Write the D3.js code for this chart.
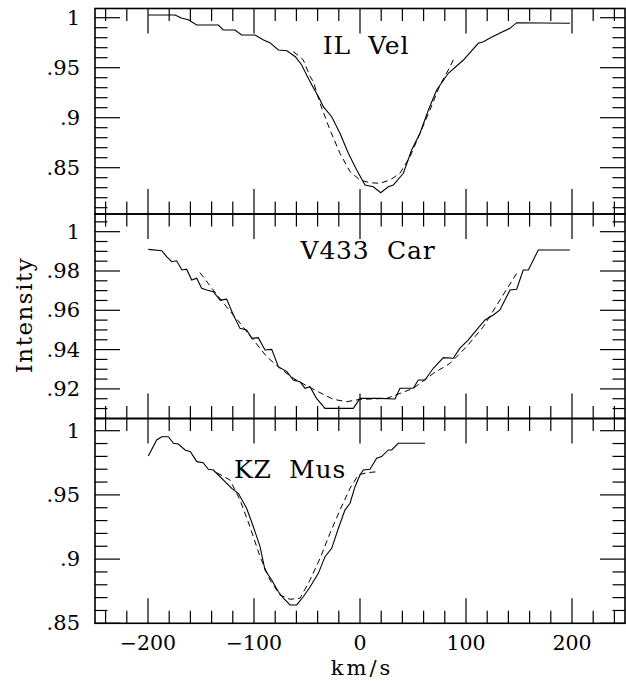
<!DOCTYPE html>
<html><head><meta charset="utf-8">
<script src="https://cdn.jsdelivr.net/npm/d3@7"></script>
<style>
html,body{margin:0;padding:0;background:#fff;}
svg{display:block;}
text{font-family:"DejaVu Serif",serif;fill:#000;}
</style></head>
<body>
<script>
// ---------- data (velocity km/s, intensity) ----------
const panelNames = ["IL Vel", "V433 Car", "KZ Mus"];
const xTickValues = [-200, -100, 0, 100, 200];

const ilVelObs = [[-199.7,1.0027],[-174.5,1.0027],[-168,0.9994],[-162,0.998],[-154,0.9927],[-133.6,0.9927],[-129,0.9877],[-118,0.9877],[-111.6,0.9827],[-99,0.9827],[-91,0.9777],[-85,0.975],[-77,0.9677],[-69,0.967],[-61,0.961],[-55,0.9527],[-50,0.942],[-44,0.93],[-38.4,0.9194],[-34.6,0.911],[-26.7,0.901],[-18.9,0.8844],[-11,0.8644],[-3.1,0.8477],[4.7,0.8327],[12.6,0.831],[19.5,0.825],[26.7,0.831],[31.4,0.8327],[40.9,0.8444],[48.7,0.8677],[56.6,0.8844],[64.5,0.9077],[72.3,0.9277],[83.3,0.9444],[97.5,0.9577],[111.6,0.9744],[116.4,0.976],[124,0.9804],[133.6,0.9854],[141.5,0.9894],[147.8,0.995],[198,0.9944]];
const ilVelFit = [[-63,0.966],[-56.6,0.961],[-53.5,0.9577],[-47,0.941],[-44,0.936],[-37.7,0.9144],[-28.3,0.8877],[-18.9,0.8644],[-9.4,0.846],[0,0.8377],[9.4,0.835],[18.9,0.8344],[28.3,0.8377],[37.7,0.8444],[47.2,0.861],[56.6,0.8844],[66,0.9077],[75.5,0.9327],[83.3,0.9477],[89.6,0.961]];

const v433Obs = [[-199.7,0.991],[-187,0.9903],[-182.4,0.9873],[-177.6,0.9847],[-173,0.9852],[-168,0.9805],[-163.5,0.9809],[-158.8,0.9754],[-154,0.9763],[-149.4,0.9712],[-144.6,0.9703],[-138.4,0.9695],[-132,0.9652],[-125.8,0.9657],[-119.5,0.9576],[-113.2,0.9508],[-107,0.95],[-102,0.9457],[-96,0.9461],[-89.6,0.9398],[-83.3,0.9401],[-77,0.9313],[-69,0.9288],[-62.9,0.9245],[-56.6,0.9237],[-51.9,0.9203],[-47.2,0.9211],[-41,0.9152],[-33,0.9101],[-6.3,0.9101],[0,0.9152],[18.9,0.9152],[33,0.9149],[37.7,0.9203],[50.3,0.9203],[55,0.9245],[61.3,0.9245],[69.2,0.9305],[78.6,0.9359],[88,0.9356],[94.3,0.9407],[102.2,0.9449],[110,0.95],[117.9,0.9551],[125.8,0.9576],[132,0.9602],[141.5,0.9703],[147.8,0.9707],[154,0.9805],[158.8,0.9805],[168.2,0.9907],[198,0.9907]];
const v433Fit = [[-151,0.9792],[-138.4,0.9703],[-126,0.9618],[-113,0.9534],[-100.6,0.9449],[-88,0.9364],[-75.5,0.9305],[-63,0.9254],[-50,0.9215],[-37.7,0.9181],[-25.2,0.9147],[-12.6,0.9135],[0,0.9147],[12.6,0.9149],[25.2,0.9152],[37.7,0.9177],[50.3,0.9203],[69.2,0.9279],[84.9,0.933],[100.6,0.9415],[116.4,0.9517],[132,0.9652],[147.8,0.9788]];

const kzMusObs = [[-199.7,0.9803],[-191.8,0.9928],[-187,0.9953],[-180.8,0.9953],[-176,0.9902],[-171.4,0.9896],[-165,0.985],[-160,0.9837],[-154,0.9759],[-148,0.9751],[-143,0.9699],[-138.4,0.9694],[-133.6,0.9655],[-127.4,0.9603],[-121,0.9551],[-114.8,0.9512],[-107,0.9396],[-100.6,0.9252],[-94.3,0.9097],[-89.6,0.8915],[-83.3,0.8837],[-77,0.8746],[-72.3,0.8695],[-66,0.8643],[-59.7,0.8643],[-53.5,0.8707],[-47,0.8785],[-39.3,0.8889],[-33,0.9019],[-26.7,0.9084],[-20.4,0.924],[-14.2,0.9382],[-9.4,0.9435],[-4.7,0.9564],[0,0.9655],[3.1,0.9694],[9.4,0.9699],[15.7,0.9785],[20.4,0.9798],[26.7,0.985],[29.9,0.985],[36.1,0.9902],[61.3,0.9902]];
const kzMusFit = [[-135.2,0.9673],[-122.6,0.9616],[-113.2,0.946],[-103.8,0.9252],[-94.3,0.9019],[-84.9,0.8837],[-75.5,0.872],[-66,0.8687],[-56.6,0.8695],[-47.2,0.8837],[-37.7,0.9006],[-28.3,0.9201],[-18.9,0.9382],[-9.4,0.9551],[-1.6,0.9655],[6.3,0.9673],[17.3,0.9681]];

const yDomains = [[0.8037, 1.0092], [0.90494, 1.009], [0.85, 1.0095]];
const yMajorTicks = [[0.85, 0.9, 0.95, 1], [0.92, 0.94, 0.96, 0.98, 1], [0.85, 0.9, 0.95, 1]];
const yMinorSteps = [0.01, 0.005, 0.01];
const observed = [ilVelObs, v433Obs, kzMusObs];
const fitted = [ilVelFit, v433Fit, kzMusFit];

// ---------- layout ----------
const W = 626, H = 681;
const left = 95, right = 625;
const panelBounds = [[8.5, 214], [214, 418.5], [418.5, 623.3]];
const labelPos = [[366, 54], [368, 259], [290, 478]];
const MAJ = 25, MIN = 12.5;

const svg = d3.select("body").append("svg").attr("width", W).attr("height", H);
const x = d3.scaleLinear().domain([-250, 250]).range([left, right]);

const fmtY = v => {
  if (Math.abs(v - 1) < 1e-9) return "1";
  return d3.format(".2~f")(v).replace(/^0\./, ".");
};

const xMinor = d3.range(-240, 250, 20).filter(v => v % 100 !== 0);

panelBounds.forEach((pb, i) => {
  const [top, bot] = pb;
  const y = d3.scaleLinear().domain(yDomains[i]).range([bot, top]);
  const g = svg.append("g");
  const [d0, d1] = yDomains[i];
  const step = yMinorSteps[i];
  const minorY = [];
  for (let k = Math.ceil(d0 / step - 1e-6); k * step <= d1 + 1e-9; k++) {
    const v = +(k * step).toFixed(4);
    if (!yMajorTicks[i].some(m => Math.abs(m - v) < 1e-9)) minorY.push(v);
  }
  const tickStroke = "#000";
  yMajorTicks[i].forEach(v => {
    g.append("line").attr("x1", left).attr("x2", left + MAJ).attr("y1", y(v)).attr("y2", y(v)).attr("stroke", tickStroke).attr("stroke-width", 1.2);
    g.append("line").attr("x1", right - MAJ).attr("x2", right).attr("y1", y(v)).attr("y2", y(v)).attr("stroke", tickStroke).attr("stroke-width", 1.2);
    g.append("text").attr("x", 80).attr("y", y(v)).attr("text-anchor", "end")
      .attr("dominant-baseline", "central").attr("font-size", 21).text(fmtY(v));
  });
  minorY.forEach(v => {
    g.append("line").attr("x1", left).attr("x2", left + MIN).attr("y1", y(v)).attr("y2", y(v)).attr("stroke", tickStroke).attr("stroke-width", 1.2);
    g.append("line").attr("x1", right - MIN).attr("x2", right).attr("y1", y(v)).attr("y2", y(v)).attr("stroke", tickStroke).attr("stroke-width", 1.2);
  });
  xTickValues.forEach(v => {
    g.append("line").attr("x1", x(v)).attr("x2", x(v)).attr("y1", top).attr("y2", top + MAJ).attr("stroke", tickStroke).attr("stroke-width", 1.2);
    g.append("line").attr("x1", x(v)).attr("x2", x(v)).attr("y1", bot - MAJ).attr("y2", bot).attr("stroke", tickStroke).attr("stroke-width", 1.2);
  });
  xMinor.forEach(v => {
    g.append("line").attr("x1", x(v)).attr("x2", x(v)).attr("y1", top).attr("y2", top + MIN).attr("stroke", tickStroke).attr("stroke-width", 1.2);
    g.append("line").attr("x1", x(v)).attr("x2", x(v)).attr("y1", bot - MIN).attr("y2", bot).attr("stroke", tickStroke).attr("stroke-width", 1.2);
  });
  g.append("rect").attr("x", left).attr("y", top).attr("width", right - left).attr("height", bot - top)
    .attr("fill", "none").attr("stroke", "#000").attr("stroke-width", 1.6);
  const line = d3.line().x(d => x(d[0])).y(d => y(d[1]));
  g.append("path").datum(fitted[i]).attr("d", line).attr("fill", "none").attr("stroke", "#000")
    .attr("stroke-width", 1).attr("stroke-dasharray", "6,4");
  g.append("path").datum(observed[i]).attr("d", line).attr("fill", "none").attr("stroke", "#000")
    .attr("stroke-width", 1.1);
  g.append("text").attr("x", labelPos[i][0]).attr("y", labelPos[i][1]).attr("text-anchor", "middle")
    .attr("font-size", 25).attr("letter-spacing", 0.8).attr("xml:space", "preserve").text(panelNames[i].replace(" ", "  "));
});

xTickValues.forEach(v => {
  svg.append("text").attr("x", x(v)).attr("y", 650).attr("text-anchor", "middle").attr("font-size", 20.5)
    .text(v < 0 ? "\u2212" + Math.abs(v) : String(v));
});
svg.append("text").attr("x", 362).attr("y", 675).attr("text-anchor", "middle").attr("font-size", 21)
  .attr("letter-spacing", 3).text("km/s");
svg.append("text").attr("transform", "translate(32,315) rotate(-90)").attr("text-anchor", "middle")
  .attr("font-size", 23).attr("letter-spacing", 1.5).text("Intensity");
</script>
</body></html>
